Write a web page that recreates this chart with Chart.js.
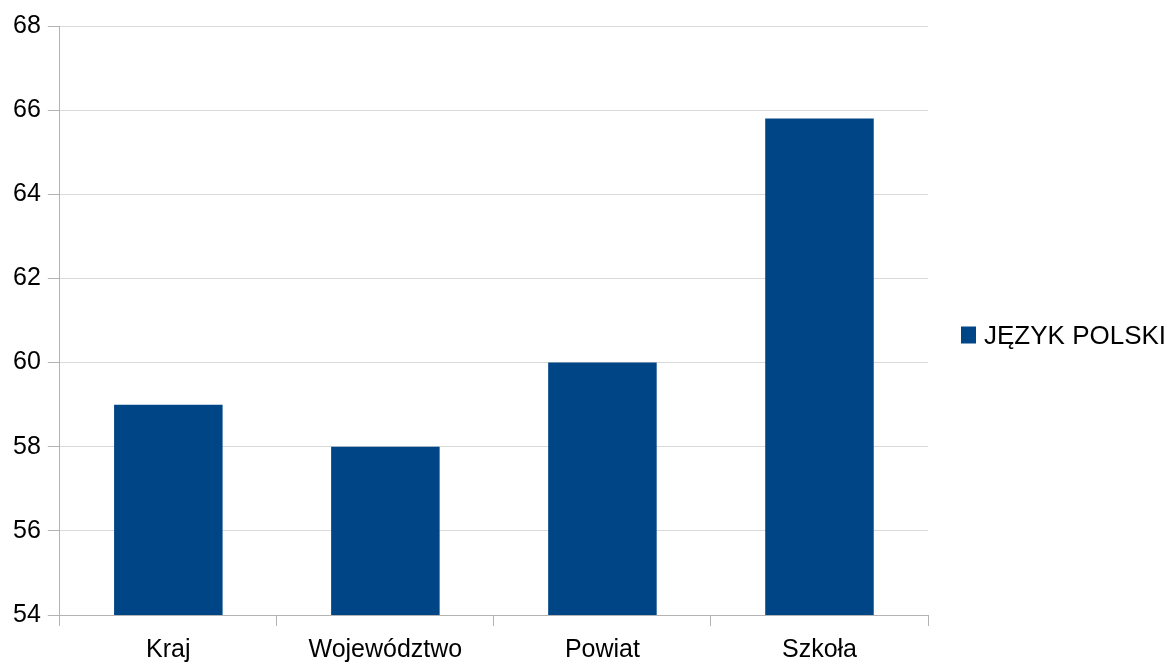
<!DOCTYPE html>
<html><head><meta charset="utf-8">
<script src="https://cdn.jsdelivr.net/npm/chart.js@4"></script>
<style>html,body{margin:0;padding:0;background:#fff;}canvas{display:block;}</style>
</head><body>
<canvas id="c" width="1175" height="663"></canvas>
<script>
const categories = ["Kraj", "Województwo", "Powiat", "Szkoła"];
const seriesName = "JĘZYK POLSKI";
const values = [59, 58, 60, 65.8];
const yMin = 54, yMax = 68, yStep = 2;

const FONT = "'Liberation Sans', Arial, sans-serif";
const BAR_COLOR = '#004586';

const sideLegend = {
  id: 'sideLegend',
  afterDraw(chart) {
    const ctx = chart.ctx;
    const ds = chart.data.datasets[0];
    const area = chart.chartArea;
    const cy = (area.top + area.bottom) / 2 + 15;
    const x0 = area.right + 33;
    ctx.save();
    ctx.fillStyle = ds.backgroundColor;
    ctx.fillRect(x0, cy - 9, 15, 17);
    ctx.fillStyle = '#000';
    ctx.font = "26px " + FONT;
    ctx.textBaseline = 'middle';
    ctx.textAlign = 'left';
    ctx.fillText(ds.label, x0 + 23, cy + 1.5);
    ctx.restore();
  }
};

new Chart(document.getElementById('c'), {
  type: 'bar',
  data: { labels: categories, datasets: [{ label: seriesName, data: values, backgroundColor: BAR_COLOR, borderWidth: 0, barPercentage: 0.5, categoryPercentage: 1 }] },
  options: {
    responsive: false, animation: false,
    layout: { padding: { top: 26, right: 247, left: 6, bottom: 0 } },
    plugins: {
      tooltip: { enabled: false },
      legend: { display: false }
    },
    scales: {
      x: { offset: true,
        afterFit: (scale) => { scale.height = 48; },
        grid: { offset: true, drawOnChartArea: true, tickLength: 11, color: (ctx) => ctx.index === categories.length ? '#b3b3b3' : 'rgba(0,0,0,0)', tickColor: '#b3b3b3' },
        border: { color: '#b3b3b3' },
        ticks: { color: '#000', font: { family: FONT, size: 25 }, padding: 9 } },
      y: { min: yMin, max: yMax,
        grid: { color: '#d9d9d9', tickLength: 12, tickColor: '#b3b3b3' },
        border: { color: '#b3b3b3' },
        ticks: { stepSize: yStep, color: '#000', font: { family: FONT, size: 25 }, padding: 7 } }
    }
  },
  plugins: [sideLegend]
});
</script>
</body></html>
